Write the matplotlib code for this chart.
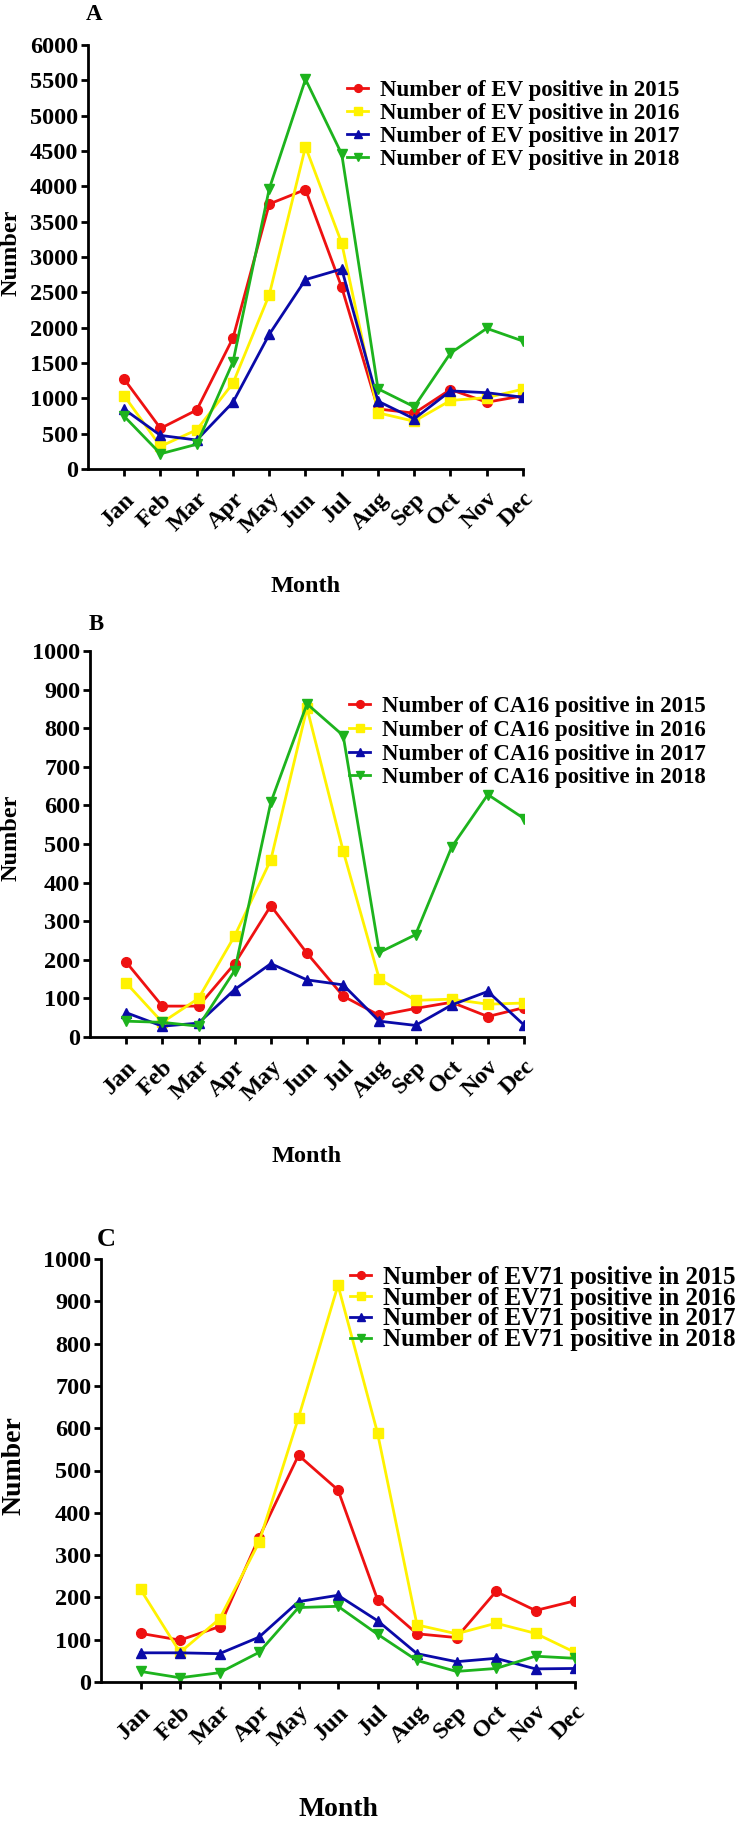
import matplotlib
matplotlib.use("Agg")
import matplotlib.pyplot as plt
import numpy as np

plt.rcParams["font.family"] = ["Liberation Serif", "DejaVu Serif"]
plt.rcParams["font.weight"] = "bold"

MONTHS = ["Jan", "Feb", "Mar", "Apr", "May", "Jun",
          "Jul", "Aug", "Sep", "Oct", "Nov", "Dec"]
YEARS = ["2015", "2016", "2017", "2018"]

# Panel A: EV
EV_2015 = [1270, 575, 835, 1855, 3750, 3955, 2570, 850, 790, 1125, 945, 1035]
EV_2016 = [1035, 320, 555, 1215, 2465, 4560, 3195, 795, 675, 970, 1010, 1130]
EV_2017 = [845, 475, 410, 945, 1905, 2680, 2830, 960, 710, 1105, 1080, 1015]
EV_2018 = [745, 215, 350, 1515, 3965, 5515, 4455, 1135, 880, 1640, 1990, 1810]

# Panel B: CA16
CA16_2015 = [194, 80, 80, 190, 340, 217, 106, 56, 74, 90, 53, 76]
CA16_2016 = [140, 38, 100, 262, 459, 852, 482, 150, 95, 98, 85, 88]
CA16_2017 = [63, 28, 36, 123, 190, 148, 135, 41, 30, 83, 118, 31]
CA16_2018 = [41, 38, 28, 172, 608, 863, 781, 219, 265, 492, 628, 566]

# Panel C: EV71
EV71_2015 = [115, 99, 131, 341, 536, 454, 195, 114, 105, 214, 169, 192]
EV71_2016 = [219, 70, 149, 330, 625, 938, 589, 135, 114, 139, 115, 70]
EV71_2017 = [69, 69, 67, 106, 190, 205, 145, 67, 48, 56, 31, 32]
EV71_2018 = [25, 10, 22, 70, 176, 179, 113, 51, 25, 32, 61, 56]

COLORS = ["#EE1111", "#FFF200", "#0A0AA8", "#1DB31D"]
MARKERS = ["o", "s", "^", "v"]

W, H = 750, 1823
TICK_FS = 17.5


def draw_panel(fig, rect, series, virus, ymax, ystep, leg_fs, lab_fs, leg_sp,
               letter, letter_xy, leg_xy, ylab_xy, month_y):
    ax = fig.add_axes(rect)
    x = np.arange(len(MONTHS))
    for vals, yr, c, m in zip(series, YEARS, COLORS, MARKERS):
        ax.plot(x, vals, color=c, marker=m, markersize=7, linewidth=2.0,
                label=f"Number of {virus} positive in {yr}")
    ax.set_xlim(-1, 11)
    ax.set_ylim(0, ymax)
    ax.set_yticks(np.arange(0, ymax + 1, ystep))
    ax.set_xticks(x)
    ax.set_xticklabels(MONTHS, rotation=45, ha="right", rotation_mode="anchor",
                       fontsize=TICK_FS, fontweight="bold")
    for lab in ax.get_yticklabels():
        lab.set_fontsize(TICK_FS)
        lab.set_fontweight("bold")
    ax.spines["top"].set_visible(False)
    ax.spines["right"].set_visible(False)
    for s in ("left", "bottom"):
        ax.spines[s].set_linewidth(2)
    ax.tick_params(width=2, length=5, pad=2)
    ax.tick_params(axis="x", pad=9)
    fs_px = leg_fs * 100 / 72
    ax.legend(loc="upper left", bbox_to_anchor=(leg_xy[0] / W, 1 - leg_xy[1] / H),
              bbox_transform=fig.transFigure, frameon=False, fontsize=leg_fs,
              handlelength=21 / fs_px, handletextpad=12 / fs_px,
              labelspacing=leg_sp, borderpad=0, borderaxespad=0, markerscale=0.8)
    fig.text(letter_xy[0] / W, 1 - letter_xy[1] / H, letter, fontsize=lab_fs - 1,
             fontweight="bold", ha="center", va="center")
    fig.text(ylab_xy[0] / W, 1 - ylab_xy[1] / H, "Number", rotation=90,
             fontsize=lab_fs, fontweight="bold", ha="center", va="center")
    fig.text((rect[0] + rect[2] / 2), 1 - month_y / H, "Month",
             fontsize=lab_fs, fontweight="bold", ha="center", va="center")
    return ax


fig = plt.figure(figsize=(7.5, 18.23), dpi=100)

draw_panel(fig, [88 / W, 1 - 469 / H, 435 / W, 424 / H],
           [EV_2015, EV_2016, EV_2017, EV_2018], "EV", 6000, 500,
           16.5, 17.5, 0.08,
           "A", (94, 14), (347, 80), (11, 253), 586)
draw_panel(fig, [90 / W, 1 - 1037 / H, 434 / W, 386 / H],
           [CA16_2015, CA16_2016, CA16_2017, CA16_2018], "CA16", 1000, 100,
           16.5, 17.5, 0.12,
           "B", (96, 624), (349, 696), (11, 838), 1156)
draw_panel(fig, [101 / W, 1 - 1682 / H, 474 / W, 423 / H],
           [EV71_2015, EV71_2016, EV71_2017, EV71_2018], "EV71", 1000, 100,
           18, 20, -0.09,
           "C", (106, 1239), (350, 1266), (14, 1466), 1810)

fig.savefig("out.png", dpi=100)
